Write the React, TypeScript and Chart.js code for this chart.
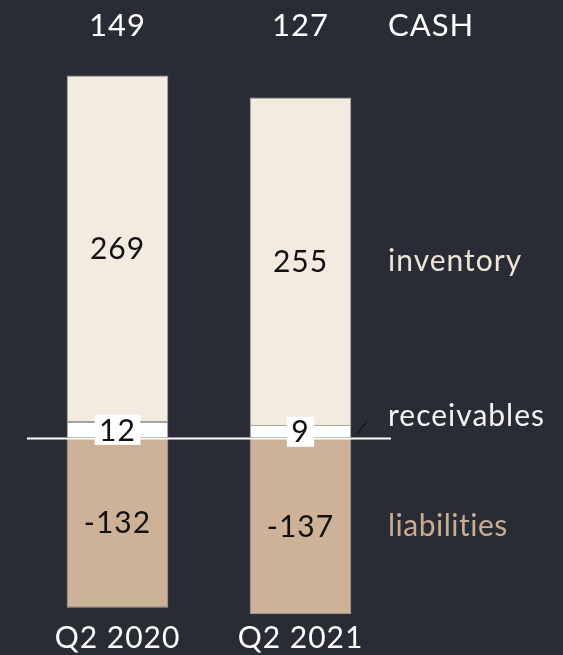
import React, { useEffect, useRef } from "react";
import { Chart, registerables } from "chart.js";

Chart.register(...registerables);

// Working-capital breakdown per quarter
const quarters = ["Q2 2020", "Q2 2021"];
const cash = [149, 127];
const receivables = [12, 9];
const inventory = [269, 255];
const liabilities = [-132, -137];

const seriesNames = {
  cash: "CASH",
  receivables: "receivables",
  inventory: "inventory",
  liabilities: "liabilities",
};

const BG = "#292c34";
const INVENTORY_FILL = "#f3ebe0";
const RECEIVABLES_FILL = "#ffffff";
const LIABILITIES_FILL = "#cdb298";
const EDGE = "rgba(175,172,168,0.95)";
const FONT = 'Lato, "Noto Sans", sans-serif';

// slightly open tracking for every text drawn on the canvas
const tracking = {
  id: "tracking",
  beforeDraw(chart: any) {
    chart.ctx.letterSpacing = "1px";
  },
};

const annotate = {
  id: "annotate",
  afterDatasetsDraw(chart: any) {
    const { ctx, chartArea } = chart;
    const yScale = chart.scales.y;
    const zeroY = Math.round(yScale.getPixelForValue(0)) + 0.5;

    // baseline across the plot
    ctx.save();
    ctx.letterSpacing = "1px";
    ctx.strokeStyle = "#ffffff";
    ctx.lineWidth = 2;
    ctx.beginPath();
    ctx.moveTo(chartArea.left + 1, zeroY);
    ctx.lineTo(chartArea.right - 1, zeroY);
    ctx.stroke();

    const recMeta = chart.getDatasetMeta(0);
    const invMeta = chart.getDatasetMeta(1);
    const liaMeta = chart.getDatasetMeta(2);

    ctx.textAlign = "center";
    ctx.textBaseline = "middle";
    ctx.font = `30px ${FONT}`;
    ctx.fillStyle = "#111111";

    // values inside the big segments
    invMeta.data.forEach((bar: any, i: number) => {
      ctx.fillText(String(inventory[i]), bar.x, (bar.y + bar.base) / 2 + 1);
    });
    liaMeta.data.forEach((bar: any, i: number) => {
      ctx.fillText(String(liabilities[i]), bar.x, (bar.y + bar.base) / 2 + 1);
    });

    // receivables values on white tags
    recMeta.data.forEach((bar: any, i: number) => {
      const txt = String(receivables[i]);
      const w = ctx.measureText(txt).width + 9;
      const h = 30;
      const cy = (bar.y + bar.base) / 2;
      ctx.fillStyle = "#ffffff";
      ctx.fillRect(bar.x - w / 2, cy - h / 2, w, h);
      ctx.fillStyle = "#111111";
      ctx.fillText(txt, bar.x, cy + 1);
    });

    // cash header row
    const headY = chartArea.top - 25;
    ctx.fillStyle = "#ffffff";
    ctx.font = `31px ${FONT}`;
    invMeta.data.forEach((bar: any, i: number) => {
      ctx.fillText(String(cash[i]), bar.x, headY);
    });

    // series names on the right
    const labelX = chartArea.right - 4;
    ctx.textAlign = "left";
    ctx.fillText(seriesNames.cash, labelX, headY);

    const lastInv = invMeta.data[invMeta.data.length - 1];
    const lastRec = recMeta.data[recMeta.data.length - 1];
    const lastLia = liaMeta.data[liaMeta.data.length - 1];

    ctx.font = `30px ${FONT}`;
    ctx.fillStyle = "#eee5d8";
    ctx.fillText(seriesNames.inventory, labelX, (lastInv.y + lastInv.base) / 2);

    const recY = (lastRec.y + lastRec.base) / 2;
    ctx.fillStyle = "#f4f4f4";
    ctx.fillText(seriesNames.receivables, labelX, recY - 15);

    ctx.fillStyle = "#c9ad92";
    ctx.letterSpacing = "0.5px";
    ctx.fillText(seriesNames.liabilities, labelX, (lastLia.y + lastLia.base) / 2);

    // small leader stroke for the thin receivables slice
    const leadX = lastRec.x + lastRec.width / 2 + 6;
    ctx.strokeStyle = "#16181c";
    ctx.lineWidth = 1.5;
    ctx.beginPath();
    ctx.moveTo(leadX, recY + 2);
    ctx.lineTo(leadX + 10, recY - 11);
    ctx.stroke();

    ctx.restore();
  },
};

export default function App() {
  const canvasRef = useRef<HTMLCanvasElement | null>(null);

  useEffect(() => {
    document.body.style.margin = "0";
    document.body.style.background = BG;
    const canvas = canvasRef.current;
    if (!canvas) return;

    const barStyle = {
      borderColor: EDGE,
      borderSkipped: false as const,
      categoryPercentage: 1,
      barPercentage: 0.555,
    };

    const chart = new Chart(canvas, {
      type: "bar",
      data: {
        labels: quarters,
        datasets: [
          {
            label: seriesNames.receivables,
            data: receivables,
            backgroundColor: RECEIVABLES_FILL,
            ...barStyle,
            borderWidth: { top: 0, left: 1, right: 1, bottom: 0 },
          },
          {
            label: seriesNames.inventory,
            data: inventory,
            backgroundColor: INVENTORY_FILL,
            ...barStyle,
            borderWidth: { top: 1, left: 1, right: 1, bottom: 1 },
          },
          {
            label: seriesNames.liabilities,
            data: liabilities,
            backgroundColor: LIABILITIES_FILL,
            ...barStyle,
            borderWidth: { top: 0, left: 1, right: 1, bottom: 1 },
          },
        ],
      },
      options: {
        responsive: false,
        animation: false,
        devicePixelRatio: 1,
        layout: { padding: { left: 26, right: 171, top: 51, bottom: 0 } },
        plugins: {
          legend: { display: false },
          tooltip: { enabled: false },
        },
        scales: {
          x: {
            stacked: true,
            grid: { display: false, drawTicks: false },
            border: { display: false },
            ticks: {
              color: "#ffffff",
              font: { family: FONT, size: 30, lineHeight: 1 },
              padding: 5,
            },
            afterFit(scale: any) {
              scale.height = 37;
            },
          },
          y: {
            stacked: true,
            display: false,
            min: -140,
            max: 300,
          },
        },
      },
      plugins: [tracking, annotate],
    });

    return () => chart.destroy();
  }, []);

  return (
    <div style={{ width: 563, height: 655, background: BG }}>
      <canvas ref={canvasRef} width={563} height={655} />
    </div>
  );
}
